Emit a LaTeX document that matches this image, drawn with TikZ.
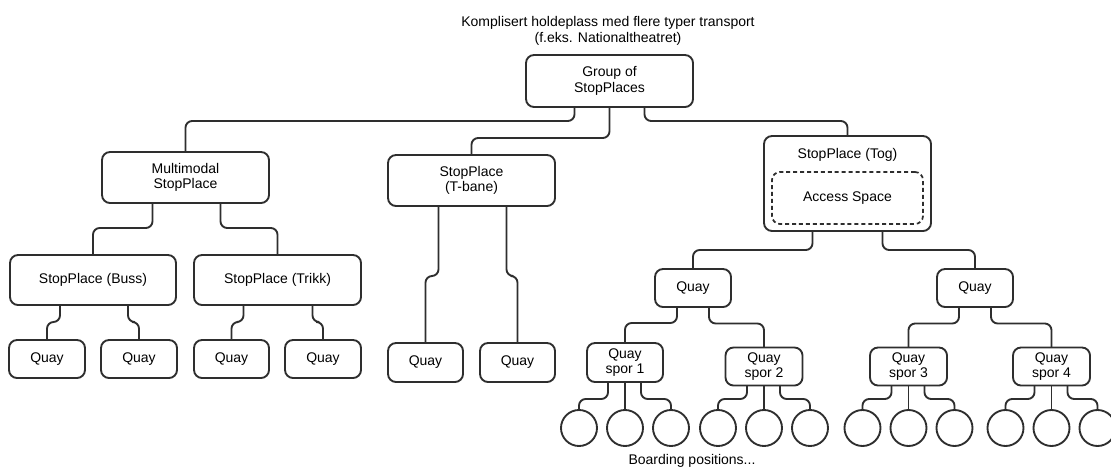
\documentclass[tikz,border=0pt]{standalone}
\usepackage{fontspec}
\setmainfont{Liberation Sans}
\usetikzlibrary{calc}
\definecolor{ink}{HTML}{2E2E2E}
\tikzset{
  bx/.style={draw=ink, line width=1.4pt, rounded corners=6pt, inner sep=0pt, outer sep=0pt, align=center, fill=white},
  wh/.style 2 args={minimum width=#1*0.75pt, minimum height=#2*0.75pt},
  conn/.style={draw=ink, line width=1.4pt, rounded corners=5pt},
  bp/.style={circle, draw=ink, line width=1.4pt, minimum size=36*0.75pt, inner sep=0pt, outer sep=0pt},
  lbl/.style={inner sep=0pt, align=center},
  accbox/.style={draw=ink, line width=1.3pt, dash pattern=on 3pt off 2.2pt, rounded corners=6pt, inner sep=0pt, outer sep=0pt, align=center}
}
\begin{document}
\begin{tikzpicture}[x=0.75pt,y=-0.75pt,font=\fontsize{10.5}{11.8}\selectfont]
\useasboundingbox (0,0) rectangle (1111,468);
\fill[white] (0,0) rectangle (1111,468);

\node[lbl] (sub) at (608,31) {Komplisert holdeplass med flere typer transport\\(f.eks. Nationaltheatret)};

\node[bx,wh={167}{52}] (grp) at (609.5,81) {Group of\\StopPlaces};
\node[bx,wh={167}{51}] (mm) at (185.5,177.5) {Multimodal\\StopPlace};
\node[bx,wh={167}{51}] (tb) at (471.5,180.5) {StopPlace\\(T-bane)};
\node[bx,wh={167}{95}] (tog) at (847.5,183.5) {};
\node[lbl] (togl) at (847.5,155) {StopPlace (Tog)};
\node[accbox,wh={151}{52}] (acc) at (847.5,198) {Access Space};

\node[bx,wh={166}{50}] (buss) at (93,280) {StopPlace (Buss)};
\node[bx,wh={167}{50}] (trikk) at (277.5,280) {StopPlace (Trikk)};

\node[bx,wh={76}{38}] (q1) at (47,359) {Quay};
\node[bx,wh={76}{38}] (q2) at (139,359) {Quay};
\node[bx,wh={75}{38}] (q3) at (231.5,359) {Quay};
\node[bx,wh={76}{38}] (q4) at (323,359) {Quay};

\node[bx,wh={75}{39}] (tq1) at (425.5,362.5) {Quay};
\node[bx,wh={75}{39}] (tq2) at (517.5,362.5) {Quay};

\node[bx,wh={76}{38}] (ql) at (693,288) {Quay};
\node[bx,wh={76}{38}] (qr) at (975,288) {Quay};

\node[bx,wh={76}{39}] (s1) at (625,362.5) {Quay\\spor 1};
\node[bx,wh={77}{38}] (s2) at (764,366.5) {Quay\\spor 2};
\node[bx,wh={77}{38}] (s3) at (908.5,366.5) {Quay\\spor 3};
\node[bx,wh={77}{38}] (s4) at (1051.5,366.5) {Quay\\spor 4};

\node[bp] (c1) at (579,428) {};
\node[bp] (c2) at (625,428) {};
\node[bp] (c3) at (671,428) {};
\node[bp] (c4) at (718,428) {};
\node[bp] (c5) at (764,428) {};
\node[bp] (c6) at (810,428) {};
\node[bp] (c7) at (862.5,428) {};
\node[bp] (c8) at (908.5,428) {};
\node[bp] (c9) at (954.5,428) {};
\node[bp] (c10) at (1005.5,428) {};
\node[bp] (c11) at (1051.5,428) {};
\node[bp] (c12) at (1097.5,428) {};

\node[lbl] (bpl) at (692,461) {Boarding positions...};

% connectors
\draw[conn] ($(grp.south)+(-35,0)$) |- ($(mm.north)+(0,-31)$) -- (mm.north);
\draw[conn] (grp.south) |- ($(tb.north)+(0,-17)$) -- (tb.north);
\draw[conn] ($(grp.south)+(35,0)$) |- ($(tog.north)+(0,-15)$) -- (tog.north);

\draw[conn] ($(mm.south)+(-33,0)$) |- ($(buss.north)+(0,-27)$) -- (buss.north);
\draw[conn] ($(mm.south)+(35,0)$) |- ($(trikk.north)+(0,-27)$) -- (trikk.north);

\draw[conn] ($(buss.south)+(-33,0)$) |- ($(q1.north)+(0,-18)$) -- (q1.north);
\draw[conn] ($(buss.south)+(35,0)$) |- ($(q2.north)+(0,-18)$) -- (q2.north);
\draw[conn] ($(trikk.south)+(-34,0)$) |- ($(q3.north)+(0,-18)$) -- (q3.north);
\draw[conn] ($(trikk.south)+(35,0)$) |- ($(q4.north)+(0,-18)$) -- (q4.north);

\draw[conn] ($(tb.south)+(-33,0)$) |- ($(tq1.north)+(0,-67)$) -- (tq1.north);
\draw[conn] ($(tb.south)+(35,0)$) |- ($(tq2.north)+(0,-67)$) -- (tq2.north);

\draw[conn] ($(tog.south)+(-35,0)$) |- ($(ql.north)+(0,-19)$) -- (ql.north);
\draw[conn] ($(tog.south)+(35,0)$) |- ($(qr.north)+(0,-19)$) -- (qr.north);

\draw[conn] ($(ql.south)+(-16,0)$) |- ($(s1.north)+(0,-20)$) -- (s1.north);
\draw[conn] ($(ql.south)+(16,0)$) |- ($(s2.north)+(0,-24)$) -- (s2.north);
\draw[conn] ($(qr.south)+(-16,0)$) |- ($(s3.north)+(0,-24)$) -- (s3.north);
\draw[conn] ($(qr.south)+(16,0)$) |- ($(s4.north)+(0,-24)$) -- (s4.north);

\draw[conn] ($(s1.south)+(-17,0)$) |- ($(c1.north)+(0,-11)$) -- (c1.north);
\draw[conn] (s1.south) -- (c2.north);
\draw[conn] ($(s1.south)+(16,0)$) |- ($(c3.north)+(0,-11)$) -- (c3.north);
\draw[conn] ($(s2.south)+(-17,0)$) |- ($(c4.north)+(0,-11)$) -- (c4.north);
\draw[conn] (s2.south) -- (c5.north);
\draw[conn] ($(s2.south)+(16,0)$) |- ($(c6.north)+(0,-11)$) -- (c6.north);
\draw[conn] ($(s3.south)+(-17,0)$) |- ($(c7.north)+(0,-11)$) -- (c7.north);
\draw[conn] (s3.south) -- (c8.north);
\draw[conn] ($(s3.south)+(16,0)$) |- ($(c9.north)+(0,-11)$) -- (c9.north);
\draw[conn] ($(s4.south)+(-17,0)$) |- ($(c10.north)+(0,-11)$) -- (c10.north);
\draw[conn] (s4.south) -- (c11.north);
\draw[conn] ($(s4.south)+(16,0)$) |- ($(c12.north)+(0,-11)$) -- (c12.north);
\end{tikzpicture}
\end{document}
